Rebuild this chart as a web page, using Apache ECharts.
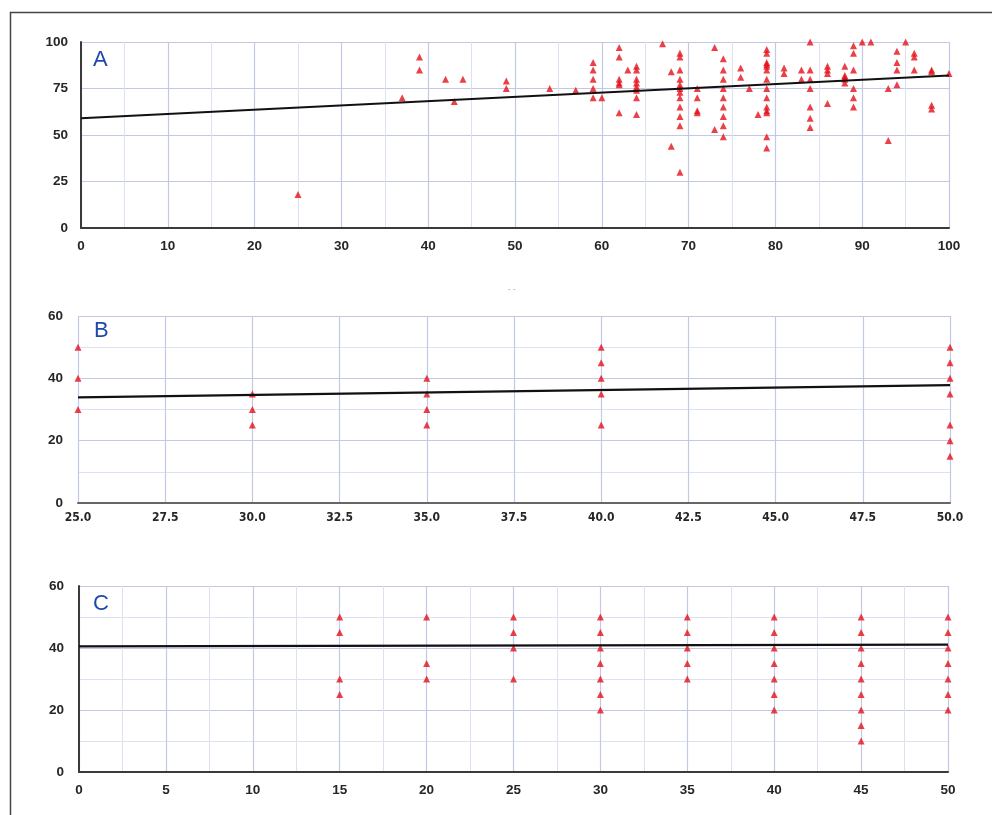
<!DOCTYPE html>
<html>
<head>
<meta charset="utf-8">
<script src="https://cdn.jsdelivr.net/npm/echarts@6/dist/echarts.min.js"></script>
<style>
html,body{margin:0;padding:0;background:#fff}
#main{width:992px;height:815px}
</style>
</head>
<body>
<div id="main"></div>
<script>
// panel A: scatter + trend
var pointsA = [
  [25,18],[37,70],[39,92],[39,85],[42,80],[43,68],[44,80],
  [49,79],[49,75],[54,75],[57,74],
  [59,89],[59,85],[59,80],[59,75],[59,70],[60,70],
  [62,97],[62,92],[62,80],[62,78],[62,77],[62,62],[63,85],
  [64,87],[64,85],[64,80],[64,78],[64,76],[64,74],[64,70],[64,61],
  [67,99],[68,84],[68,44],
  [69,94],[69,92],[69,85],[69,80],[69,77],[69,75],[69,73],[69,70],[69,65],[69,60],[69,55],[69,30],
  [71,75],[71,70],[71,63],[71,62],[73,97],[73,53],
  [74,91],[74,85],[74,80],[74,75],[74,70],[74,65],[74,60],[74,55],[74,49],
  [76,86],[76,81],[77,75],[78,61],
  [79,96],[79,94],[79,89],[79,88],[79,87],[79,85],[79,80],[79,75],[79,70],[79,65],[79,63],[79,62],[79,49],[79,43],
  [81,86],[81,83],[83,85],[83,80],
  [84,100],[84,85],[84,80],[84,75],[84,65],[84,59],[84,54],
  [86,87],[86,85],[86,83],[86,67],
  [88,87],[88,82],[88,81],[88,80],[88,78],
  [89,98],[89,94],[89,85],[89,75],[89,70],[89,65],
  [90,100],[91,100],[93,75],[93,47],
  [94,95],[94,89],[94,85],[94,77],[95,100],
  [96,94],[96,92],[96,85],
  [98,85],[98,84],[98,66],[98,64],[100,83]
];
var trendA = [[0,59],[100,82]];

// panel B
var pointsB = [
  [25,50],[25,40],[25,30],
  [30,35],[30,30],[30,25],
  [35,40],[35,35],[35,30],[35,25],
  [40,50],[40,45],[40,40],[40,35],[40,25],
  [50,50],[50,45],[50,40],[50,35],[50,25],[50,20],[50,15]
];
var trendB = [[25,33.9],[50,37.8]];

// panel C
var pointsC = [
  [15,50],[15,45],[15,30],[15,25],
  [20,50],[20,35],[20,30],
  [25,50],[25,45],[25,40],[25,30],
  [30,50],[30,45],[30,40],[30,35],[30,30],[30,25],[30,20],
  [35,50],[35,45],[35,40],[35,35],[35,30],
  [40,50],[40,45],[40,40],[40,35],[40,30],[40,25],[40,20],
  [45,50],[45,45],[45,40],[45,35],[45,30],[45,25],[45,20],[45,15],[45,10],
  [50,50],[50,45],[50,40],[50,35],[50,30],[50,25],[50,20]
];
var trendC = [[0,40.5],[50,41.1]];

var chart = echarts.init(document.getElementById('main'));

var majorColor = '#c3c8e5';
var minorColor = '#dde1f2';
var labelFont = {color: '#262626', fontSize: 13.5, fontWeight: 'bold', fontFamily: 'Liberation Sans, Arial, sans-serif'};

function axis(grid, min, max, interval, minor, showLine, margin, extra) {
  var a = {
    type: 'value', gridIndex: grid, min: min, max: max, interval: interval,
    axisLine: {show: showLine, onZero: false, lineStyle: {color: '#3a3a3a', width: 2}},
    axisTick: {show: false},
    axisLabel: Object.assign({margin: margin}, labelFont),
    splitLine: {show: true, lineStyle: {color: majorColor, width: 1.2}},
    minorTick: {show: false, splitNumber: 2},
    minorSplitLine: {show: minor, lineStyle: {color: minorColor, width: 1}}
  };
  return Object.assign(a, extra || {});
}

function scatter(idx, data) {
  return {type: 'scatter', xAxisIndex: idx, yAxisIndex: idx, data: data,
    symbol: 'triangle', symbolSize: 7, itemStyle: {color: '#e5121b'}, z: 3};
}
function trend(idx, data) {
  return {type: 'line', xAxisIndex: idx, yAxisIndex: idx, data: data,
    symbol: 'none', lineStyle: {color: '#111', width: 2.2}, z: 4};
}

var option = {
  animation: false,
  grid: [
    {left: 81, right: 43, top: 42, height: 186},
    {left: 78, right: 42, top: 316, height: 187},
    {left: 79, right: 44, top: 586, height: 186}
  ],
  xAxis: [
    axis(0, 0, 100, 10, true, true, 11),
    axis(1, 25, 50, 2.5, false, true, 9, {
      axisLabel: Object.assign({}, labelFont, {margin: 9, fontSize: 12,
        fontFamily: 'DejaVu Sans Condensed, Liberation Sans Narrow, sans-serif',
        formatter: function (v) { return v.toFixed(1); }}),
      axisLine: {show: true, onZero: false, lineStyle: {color: '#666', width: 2}}
    }),
    axis(2, 0, 50, 5, true, true, 11)
  ],
  yAxis: [
    axis(0, 0, 100, 25, false, true, 13),
    axis(1, 0, 60, 20, true, false, 15),
    axis(2, 0, 60, 20, true, true, 15)
  ],
  series: [
    scatter(0, pointsA), trend(0, trendA),
    scatter(1, pointsB), trend(1, trendB),
    scatter(2, pointsC), trend(2, trendC)
  ],
  graphic: [
    {type: 'rect', shape: {x: 10.5, y: 12.5, width: 990, height: 820},
      style: {fill: 'none', stroke: '#444', lineWidth: 1.5}, silent: true},
    {type: 'text', left: 93, top: 49, style: {text: 'A', fill: '#2149ad', font: '22px Liberation Sans, Arial, sans-serif'}},
    {type: 'text', left: 94, top: 320, style: {text: 'B', fill: '#2149ad', font: '22px Liberation Sans, Arial, sans-serif'}},
    {type: 'text', left: 93, top: 593, style: {text: 'C', fill: '#2149ad', font: '22px Liberation Sans, Arial, sans-serif'}},
    {type: 'text', left: 508, top: 285, style: {text: '- -', fill: '#9a9a9a', font: '8px Liberation Sans, Arial, sans-serif'}}
  ]
};

chart.setOption(option);
</script>
</body>
</html>
